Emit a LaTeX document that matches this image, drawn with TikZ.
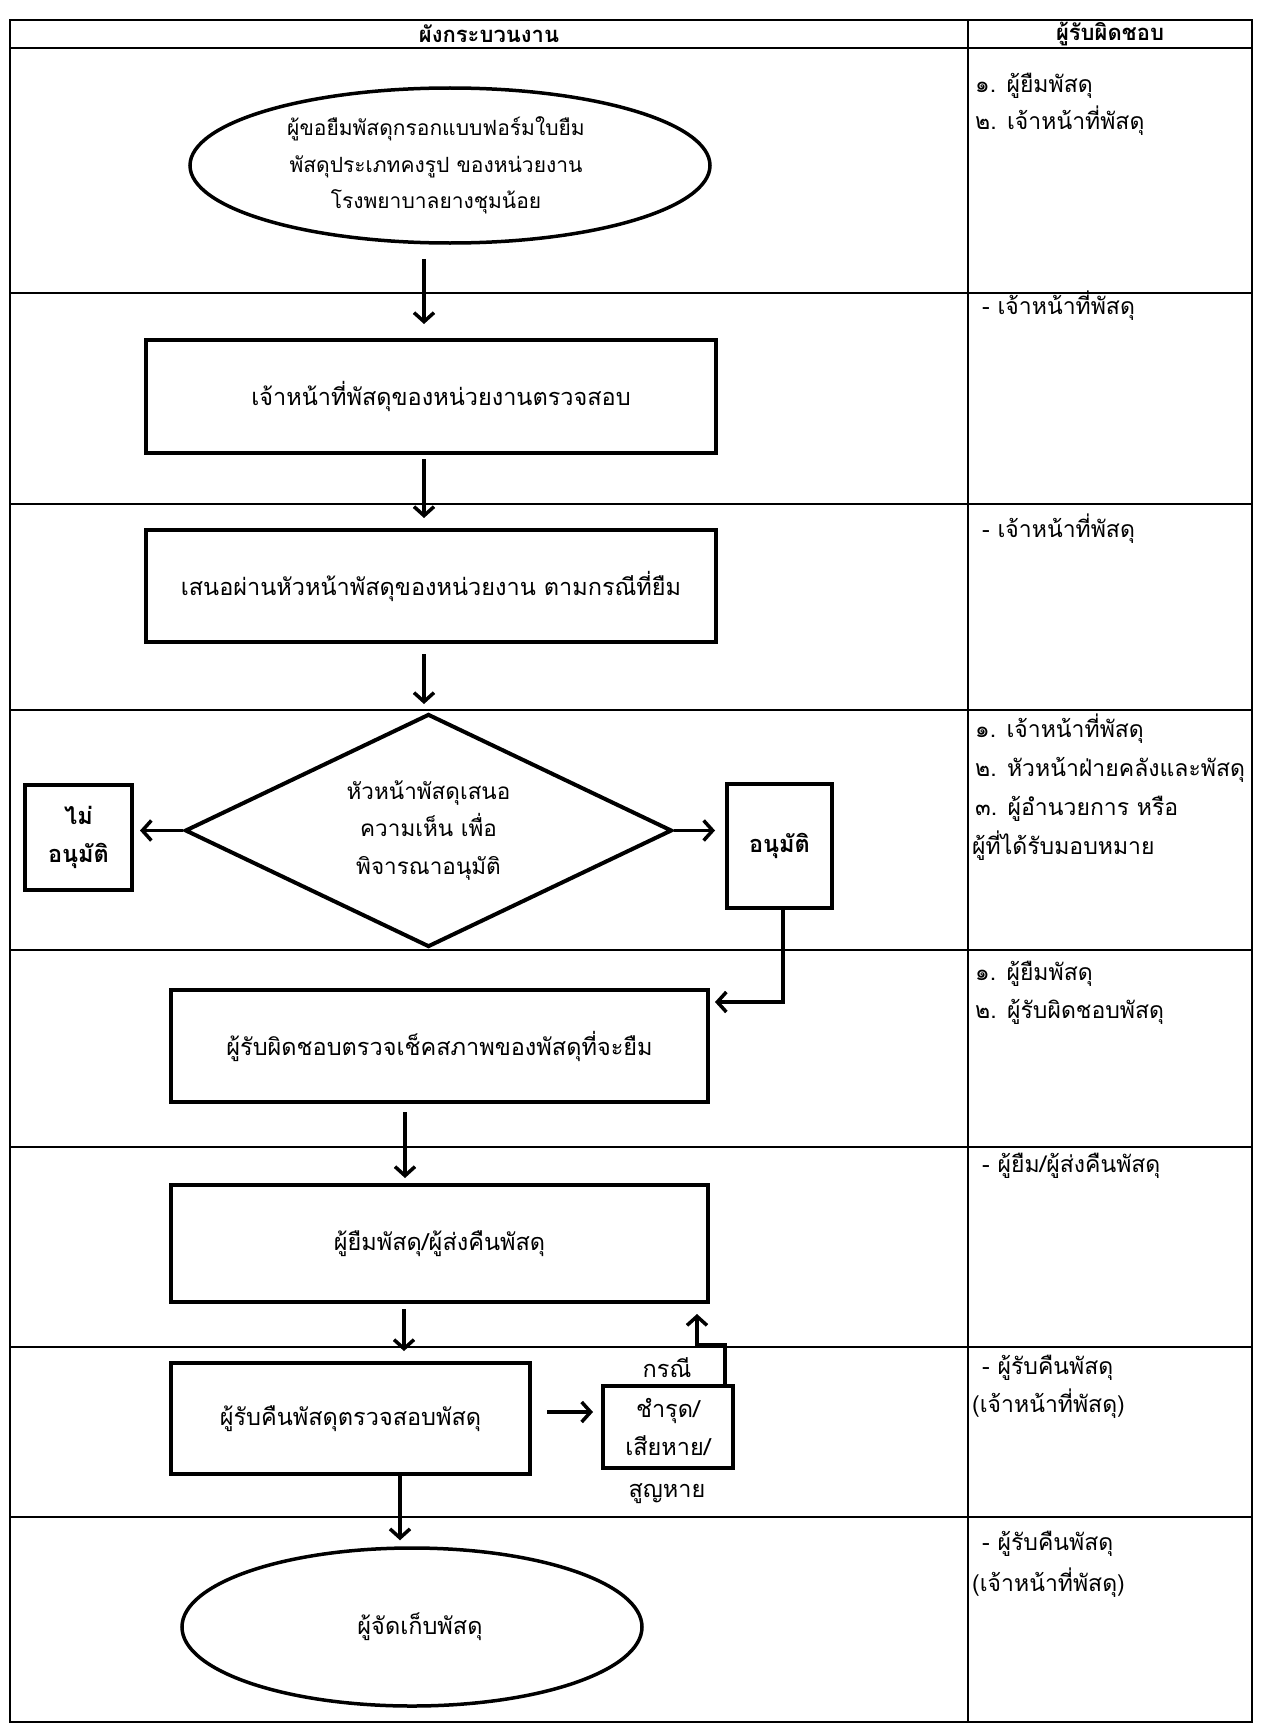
\documentclass[tikz,border=0pt]{standalone}
\usepackage{fontspec}
\setmainfont[Script=Thai]{Loma}
\usetikzlibrary{arrows.meta,shapes.geometric,calc}
\begin{document}
\begin{tikzpicture}[x=1pt,y=-1pt,
  every node/.style={font=\fontsize{23.5}{38}\selectfont},
  box/.style={draw, line width=4pt, rectangle, align=center, inner sep=0pt},
  oval/.style={draw, line width=3.5pt, ellipse, align=center, inner sep=0pt},
  dia/.style={draw, line width=4pt, diamond, aspect=2, align=center, inner sep=0pt},
  arr/.style={line width=3.5pt, -{Straight Barb[length=9pt,width=20pt]}},
  tline/.style={line width=2pt},
  rtxt/.style={anchor=base west, inner sep=0pt, font=\fontsize{23}{38}\selectfont},
  htxt/.style={inner sep=0pt, font=\fontsize{22}{38}\selectfont\bfseries},
  btxt/.style={font=\fontsize{23.5}{38}\selectfont\bfseries}]
\useasboundingbox (0,0) rectangle (1267,1726);
\fill[white] (0,0) rectangle (1267,1726);
% table
\draw[tline] (10,20) rectangle (1252,1722);
\draw[tline] (968,20) -- (968,1722);
\foreach \yy in {48,293,504,710,950,1147,1347,1517}
  \draw[tline] (10,\yy) -- (1252,\yy);
\node[htxt] (h1) at (489,34) {ผังกระบวนงาน};
\node[htxt] (h2) at (1110,34) {ผู้รับผิดชอบ};
% flow nodes
\node[oval, minimum width=520pt, minimum height=155pt, font=\fontsize{21}{36.5}\selectfont] (e1) at (450,165.5)
  {\hspace*{-28pt}\parbox{330pt}{\centering ผู้ขอยืมพัสดุกรอกแบบฟอร์มใบยืม\\พัสดุประเภทคงรูป ของหน่วยงาน\\โรงพยาบาลยางชุมน้อย}};
\node[box, minimum width=570pt, minimum height=113pt] (b2) at (431,396.5)
  {\hspace*{20pt}เจ้าหน้าที่พัสดุของหน่วยงานตรวจสอบ};
\node[box, minimum width=570pt, minimum height=112pt] (b3) at (431,586)
  {เสนอผ่านหัวหน้าพัสดุของหน่วยงาน ตามกรณีที่ยืม};
\node[dia, minimum width=487pt, minimum height=233pt, font=\fontsize{22.5}{37.5}\selectfont] (d) at (428.5,830.5)
  {\raisebox{-8pt}{\parbox{220pt}{\centering หัวหน้าพัสดุเสนอ\\ความเห็น เพื่อ\\พิจารณาอนุมัติ}}};
\node[box, btxt, minimum width=107pt, minimum height=105pt] (no) at (78.5,837.5)
  {ไม่\\อนุมัติ};
\node[box, btxt, minimum width=105pt, minimum height=124pt] (yes) at (779.5,846)
  {อนุมัติ};
\node[box, minimum width=537pt, minimum height=112pt] (b5) at (439.5,1046)
  {ผู้รับผิดชอบตรวจเช็คสภาพของพัสดุที่จะยืม};
\node[box, minimum width=537pt, minimum height=117pt] (b6) at (439.5,1243.5)
  {ผู้ยืมพัสดุ/ผู้ส่งคืนพัสดุ};
\node[box, minimum width=359pt, minimum height=111pt] (b7) at (350.5,1418.5)
  {ผู้รับคืนพัสดุตรวจสอบพัสดุ};
\node[box, minimum width=130pt, minimum height=82pt] (sm) at (668,1427)
  {ชำรุด/\\เสียหาย/};
\node[inner sep=0pt] (smt) at (667,1368) {กรณี};
\node[inner sep=0pt] (smb) at (667,1494) {สูญหาย};
\node[oval, minimum width=460pt, minimum height=158pt] (e2) at (412,1627)
  {\hspace*{16pt}\raisebox{-22pt}{ผู้จัดเก็บพัสดุ}};
% connectors
\draw[arr, shorten <=14pt, shorten >=14pt] ([xshift=-26pt]e1.south) -- ([xshift=-26pt]e1.south |- b2.north);
\draw[arr, shorten <=4pt, shorten >=10pt] ([xshift=-7pt]b2.south) -- ([xshift=-7pt]b3.north);
\draw[arr, shorten <=10pt, shorten >=8pt] ([xshift=-7pt]b3.south) -- ([xshift=-4.5pt]d.north);
\draw[arr, shorten >=6pt] (d.west) -- (d.west -| no.east);
\draw[arr, shorten >=10pt] (d.east) -- (d.east -| yes.west);
\draw[arr, shorten >=5pt] ([xshift=3.5pt]yes.south) |- ([yshift=44pt]b5.east);
\draw[arr, shorten <=8pt, shorten >=5pt] ([xshift=-34.5pt]b5.south) -- ([xshift=-34.5pt]b6.north);
\draw[arr, shorten <=5pt, shorten >=10pt] ([xshift=-35.5pt]b6.south) -- ([xshift=53.5pt]b7.north);
\draw[arr, shorten <=15pt, shorten >=8pt] ([yshift=6.5pt]b7.east) -- ([yshift=6.5pt]b7.east -| sm.west);
\draw[arr, shorten >=10pt] ([xshift=57pt]sm.north) -- ++(0,-39) -| ([xshift=257.5pt]b6.south);
\draw[arr, shorten >=6pt] ([xshift=49.5pt]b7.south) -- ([xshift=49.5pt]b7.south |- e2.north);
% responsibility column
\node[rtxt] (r1a) at (975,93) {๑. ผู้ยืมพัสดุ};
\node[rtxt] (r1b) at (975,130) {๒. เจ้าหน้าที่พัสดุ};
\node[rtxt] (r2a) at (982,314) {- เจ้าหน้าที่พัสดุ};
\node[rtxt] (r3a) at (982,537) {- เจ้าหน้าที่พัสดุ};
\node[rtxt] (r4a) at (975,737) {๑. เจ้าหน้าที่พัสดุ};
\node[rtxt] (r4b) at (975,776) {๒. หัวหน้าฝ่ายคลังและพัสดุ};
\node[rtxt] (r4c) at (975,815) {๓. ผู้อำนวยการ หรือ};
\node[rtxt] (r4d) at (972,854) {ผู้ที่ได้รับมอบหมาย};
\node[rtxt] (r5a) at (975,980) {๑. ผู้ยืมพัสดุ};
\node[rtxt] (r5b) at (975,1018) {๒. ผู้รับผิดชอบพัสดุ};
\node[rtxt] (r6a) at (982,1172) {- ผู้ยืม/ผู้ส่งคืนพัสดุ};
\node[rtxt] (r7a) at (982,1374) {- ผู้รับคืนพัสดุ};
\node[rtxt] (r7b) at (972,1412) {(เจ้าหน้าที่พัสดุ)};
\node[rtxt] (r8a) at (982,1550) {- ผู้รับคืนพัสดุ};
\node[rtxt] (r8b) at (972,1591) {(เจ้าหน้าที่พัสดุ)};
\end{tikzpicture}
\end{document}
